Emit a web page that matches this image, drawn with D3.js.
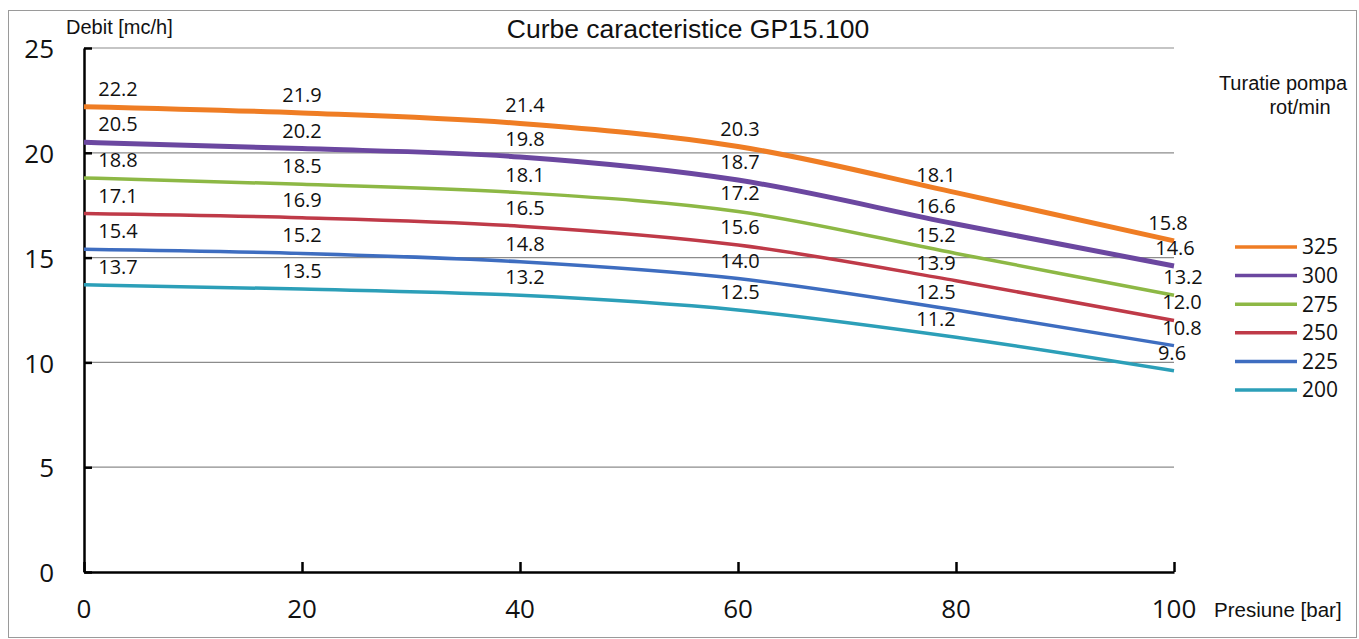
<!DOCTYPE html>
<html><head><meta charset="utf-8">
<script src="https://cdn.jsdelivr.net/npm/d3@7"></script>
<style>body{margin:0;background:#fff}svg{display:block}</style>
</head><body><svg id="c" width="1359" height="639"></svg>
<script>
const pressures = [0, 20, 40, 60, 80, 100];
const speeds = ["325", "300", "275", "250", "225", "200"];
const flow325 = [22.2, 21.9, 21.4, 20.3, 18.1, 15.8];
const flow300 = [20.5, 20.2, 19.8, 18.7, 16.6, 14.6];
const flow275 = [18.8, 18.5, 18.1, 17.2, 15.2, 13.2];
const flow250 = [17.1, 16.9, 16.5, 15.6, 13.9, 12.0];
const flow225 = [15.4, 15.2, 14.8, 14.0, 12.5, 10.8];
const flow200 = [13.7, 13.5, 13.2, 12.5, 11.2, 9.6];
const yTicks = [0, 5, 10, 15, 20, 25];
const xTicks = [0, 20, 40, 60, 80, 100];
const colors = ["#EF7D24", "#6B47A0", "#8DB845", "#BF3A48", "#3E6DC0", "#2C9FB8"];
const widths = [5, 5, 3.5, 3.5, 3.5, 3.5];

const series = [flow325, flow300, flow275, flow250, flow225, flow200];
const svg = d3.select("#c");
const x = d3.scaleLinear().domain([0, 100]).range([84, 1174]);
const y = d3.scaleLinear().domain([0, 25]).range([572, 48]);

// frame
svg.append("rect").attr("x", 8.5).attr("y", 10.5).attr("width", 1348).attr("height", 627)
  .attr("fill", "none").attr("stroke", "#9a9a9a").attr("stroke-width", 1);

// gridlines
svg.append("g").selectAll("line").data(yTicks.filter(d => d > 0)).join("line")
  .attr("x1", x(0)).attr("x2", x(100)).attr("y1", d => y(d)).attr("y2", d => y(d))
  .attr("stroke", "#8c8c8c").attr("stroke-width", 1.2);

// axes
const yAxis = d3.axisLeft(y).tickValues(yTicks).tickSize(-8).tickFormat("").tickSizeOuter(0);
const gy = svg.append("g").attr("transform", `translate(${x(0)},0)`).call(yAxis);
gy.selectAll("path,line").attr("stroke", "#000").attr("stroke-width", 2.5);
const xAxis = d3.axisBottom(x).tickValues(xTicks).tickSize(-10).tickFormat("").tickSizeOuter(0);
const gx = svg.append("g").attr("transform", `translate(0,${y(0)})`).call(xAxis);
gx.selectAll("path,line").attr("stroke", "#000").attr("stroke-width", 2.5);

const tickFont = "'Open Sans', 'Noto Sans', sans-serif";
svg.append("g").selectAll("text").data(yTicks).join("text")
  .attr("x", 54).attr("y", d => y(d) + 1).attr("dy", "0.35em").attr("text-anchor", "end")
  .attr("font-family", tickFont).attr("font-size", 26).attr("fill", "#111").text(d => d);
svg.append("g").selectAll("text").data(xTicks).join("text")
  .attr("x", d => x(d)).attr("y", 609).attr("dy", "0.35em").attr("text-anchor", "middle")
  .attr("font-family", tickFont).attr("font-size", 26).attr("fill", "#111").text(d => d);

// titles
const arial = "'Liberation Sans', Arial, sans-serif";
svg.append("text").attr("x", 688).attr("y", 38).attr("text-anchor", "middle")
  .attr("font-family", arial).attr("font-size", 26.5).attr("fill", "#111").text("Curbe caracteristice GP15.100");
svg.append("text").attr("x", 66).attr("y", 34).attr("font-family", arial).attr("font-size", 20)
  .attr("fill", "#111").text("Debit [mc/h]");
svg.append("text").attr("x", 1214).attr("y", 617).attr("font-family", arial).attr("font-size", 20.5)
  .attr("fill", "#111").text("Presiune [bar]");

// lines
const line = d3.line().x((d, i) => x(pressures[i])).y(d => y(d)).curve(d3.curveMonotoneX);
series.forEach((s, k) => {
  svg.append("path").datum(s).attr("d", line).attr("fill", "none")
    .attr("stroke", colors[k]).attr("stroke-width", widths[k]).attr("stroke-linecap", "butt");
});

// data labels
const labelDx = [34, 0, 5, 2, -20, -4];
const labelDx100 = [-6, 1, 9, 8, 8, -2];
series.forEach((s, k) => {
  svg.append("g").selectAll("text").data(s).join("text")
    .attr("x", (d, i) => x(pressures[i]) + (i === 5 ? labelDx100[k] : labelDx[i]))
    .attr("y", (d, i) => y(d) - 18)
    .attr("dy", "0.35em")
    .attr("text-anchor", "middle")
    .attr("font-family", tickFont).attr("font-size", 20).attr("fill", "#111")
    .text(d => d.toFixed(1));
});

// legend
svg.append("text").attr("x", 1283).attr("y", 90).attr("text-anchor", "middle")
  .attr("font-family", arial).attr("font-size", 20).attr("fill", "#111").text("Turatie pompa");
svg.append("text").attr("x", 1300).attr("y", 114).attr("text-anchor", "middle")
  .attr("font-family", arial).attr("font-size", 20).attr("fill", "#111").text("rot/min");
const leg = svg.append("g").selectAll("g").data(speeds).join("g")
  .attr("transform", (d, i) => `translate(0,${247 + i * 28.6})`);
leg.append("line").attr("x1", 1235).attr("x2", 1297).attr("y1", 0).attr("y2", 0)
  .attr("stroke", (d, i) => colors[i]).attr("stroke-width", 3.5);
leg.append("text").attr("x", 1302).attr("y", 0).attr("dy", "0.35em")
  .attr("font-family", tickFont).attr("font-size", 21).attr("fill", "#111").text(d => d);
</script></body></html>
